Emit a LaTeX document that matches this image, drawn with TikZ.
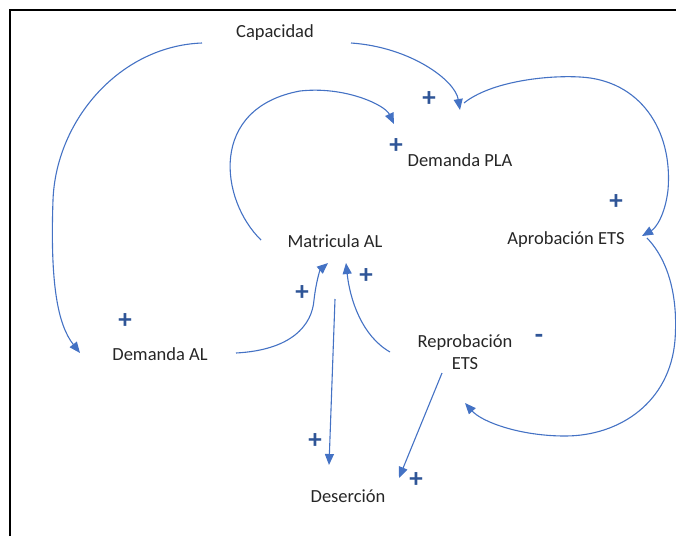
\documentclass[tikz,border=0pt]{standalone}
\usepackage{fontspec}
\setmainfont{Carlito}
\usetikzlibrary{arrows.meta}
\definecolor{arr}{HTML}{4472C4}
\definecolor{sgn}{HTML}{2F5597}
\definecolor{txt}{HTML}{262626}
\tikzset{
  lbl/.style={inner sep=0pt, text=txt, font=\fontsize{18.5}{22}\selectfont, align=center},
  sign/.style={inner sep=0pt, text=sgn, font=\bfseries\fontsize{27}{27}\selectfont},
  link/.style={draw=arr, line width=1.1pt, -{Triangle[length=11pt,width=9pt]}, fill=none},
}
\begin{document}
\begin{tikzpicture}[x=1pt,y=-1pt]
\useasboundingbox (0,0) rectangle (676,536);
\draw[line width=2pt] (10,536) -- (10,10) -- (676,10);
% nodes
\node[lbl] (cap) at (275,33) {Capacidad};
\node[lbl] (dpla) at (460,160) {Demanda PLA};
\node[lbl] (apr) at (566,240) {Aprobación ETS};
\node[lbl] (mat) at (335,241) {Matricula AL};
\node[lbl] (dal) at (160,354) {Demanda AL};
\node[lbl] (rep) at (465,352) {Reprobación\\ETS};
\node[lbl] (des) at (348,496) {Deserción};
% free ends
\coordinate (c1s) at (202,43);
\coordinate (c1e) at (80,353);
\coordinate (c2s) at (351,43);
\coordinate (c2e) at (460,110);
\coordinate (c3s) at (464,103);
\coordinate (c3e) at (642,236);
\coordinate (c4s) at (261,240);
\coordinate (c4e) at (394,124);
\coordinate (c5s) at (647,238);
\coordinate (c5e) at (465,403);
\coordinate (c6s) at (236,353);
\coordinate (c6e) at (328,263);
\coordinate (c7s) at (390,352);
\coordinate (c7e) at (346,263);
\coordinate (c8s) at (335,299);
\coordinate (c8e) at (329,465);
\coordinate (c9s) at (442,373);
\coordinate (c9e) at (399,478);
% connectors
\draw[link] (c1s) .. controls (120,46) and (56,120) .. (53,200) .. controls (50,285) and (58,325) .. (c1e);
\draw[link] (c2s) .. controls (410,47) and (455,80) .. (c2e);
\draw[link] (c3s) .. controls (490,82) and (545,75) .. (580,77) .. controls (640,80) and (673,130) .. (668,190) .. controls (665,215) and (656,228) .. (c3e);
\draw[link] (c4s) .. controls (220,200) and (208,108) .. (300,91) .. controls (345,86) and (385,105) .. (c4e);
\draw[link] (c5s) .. controls (670,262) and (678,300) .. (675,340) .. controls (670,402) and (620,436) .. (565,436) .. controls (520,436) and (482,422) .. (c5e);
\draw[link] (c6s) .. controls (292,350) and (312,325) .. (314,300) .. controls (316,282) and (320,270) .. (c6e);
\draw[link] (c7s) .. controls (362,336) and (350,300) .. (c7e);
\draw[link] (c8s) -- (c8e);
\draw[link] (c9s) -- (c9e);
% signs
\node[sign] (p1) at (429,99) {+};
\node[sign] (p2) at (396,146) {+};
\node[sign] (p3) at (616,202) {+};
\node[sign] (p4) at (125,321) {+};
\node[sign] (p5) at (302,293) {+};
\node[sign] (p6) at (366,276) {+};
\node[sign] (p7) at (315,441) {+};
\node[sign] (p8) at (416,480) {+};
\node[sign] (m1) at (539,339) {-};
\end{tikzpicture}
\end{document}
